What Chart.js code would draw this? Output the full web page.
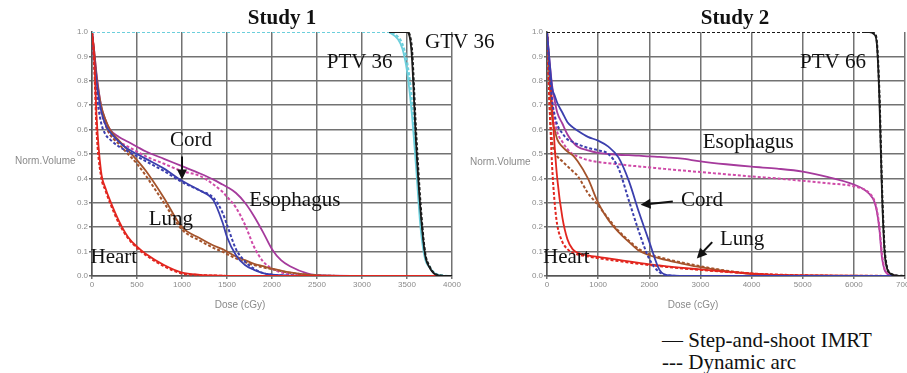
<!DOCTYPE html>
<html>
<head>
<meta charset="utf-8">
<script src="https://cdn.jsdelivr.net/npm/chart.js@4.4.1/dist/chart.umd.min.js"></script>
<style>
  body { margin: 0; background: #fff; }
  #wrap { position: relative; width: 907px; height: 373px; overflow: hidden; }
  canvas { position: absolute; top: 0; }
  .txt { position: absolute; white-space: nowrap; line-height: 24px; }
  .title { font: bold 21px "Liberation Serif", serif; color: #111; transform: translateX(-50%); top: 5px; }
  .axis { font: 10px "Liberation Sans", Arial, sans-serif; color: #8a8a8a; line-height: 12px; }
  .legend { font: 21px "Liberation Serif", serif; color: #111; left: 662px; }
</style>
</head>
<body>
<div id="wrap">
  <canvas id="c1" width="540" height="300" style="left:0"></canvas>
  <canvas id="c2" width="447" height="300" style="left:460px"></canvas>
  <div class="txt title" style="left:282px">Study 1</div>
  <div class="txt title" style="left:735px">Study 2</div>
  <div class="txt axis" style="left:15px;top:155px">Norm.Volume</div>
  <div class="txt axis" style="left:470px;top:156px">Norm.Volume</div>
  <div class="txt axis" style="left:240px;top:299px;transform:translateX(-50%)">Dose (cGy)</div>
  <div class="txt axis" style="left:693px;top:299px;transform:translateX(-50%)">Dose (cGy)</div>
  <div class="txt legend" style="top:328px">— Step-and-shoot IMRT</div>
  <div class="txt legend" style="top:350px">--- Dynamic arc</div>
</div>
<script>
// Study 1 - organ DVHs share one dose grid (cGy)
const s1OrganDose = [0, 25, 50, 100, 150, 200, 300, 400, 500, 600, 800, 1000, 1200, 1350, 1450, 1500, 1600, 1700, 1800, 1900, 2000, 2100, 2200, 2400, 2600, 3000, 4000];
const s1HeartStep = [1, 0.9, 0.66, 0.43, 0.36, 0.31, 0.225, 0.16, 0.12, 0.09, 0.045, 0.014, 0.005, 0.002, 0.001, 0, 0, 0, 0, 0, 0, 0, 0, 0, 0, 0, 0];
const s1HeartArc = [1, 0.86, 0.6, 0.41, 0.35, 0.3, 0.215, 0.155, 0.115, 0.085, 0.04, 0.01, 0.004, 0.002, 0.001, 0, 0, 0, 0, 0, 0, 0, 0, 0, 0, 0, 0];
const s1LungStep = [1, 0.92, 0.82, 0.7, 0.64, 0.6, 0.555, 0.515, 0.475, 0.43, 0.32, 0.2, 0.155, 0.125, 0.11, 0.1, 0.08, 0.065, 0.05, 0.04, 0.03, 0.022, 0.015, 0.006, 0.001, 0, 0];
const s1LungArc = [1, 0.9, 0.79, 0.68, 0.62, 0.58, 0.54, 0.5, 0.46, 0.41, 0.3, 0.19, 0.145, 0.115, 0.1, 0.09, 0.072, 0.057, 0.045, 0.035, 0.028, 0.02, 0.013, 0.005, 0.001, 0, 0];
const s1CordStep = [1, 0.9, 0.8, 0.68, 0.62, 0.59, 0.55, 0.52, 0.5, 0.48, 0.44, 0.39, 0.35, 0.31, 0.22, 0.16, 0.085, 0.045, 0.025, 0.012, 0.006, 0.003, 0.001, 0, 0, 0, 0];
const s1CordArc = [1, 0.86, 0.75, 0.63, 0.58, 0.56, 0.53, 0.51, 0.49, 0.47, 0.43, 0.385, 0.35, 0.32, 0.26, 0.21, 0.11, 0.06, 0.03, 0.012, 0.005, 0.002, 0.001, 0, 0, 0, 0];
const s1EsoStep = [1, 0.92, 0.83, 0.7, 0.64, 0.6, 0.57, 0.55, 0.53, 0.51, 0.48, 0.45, 0.42, 0.395, 0.375, 0.365, 0.34, 0.3, 0.245, 0.18, 0.11, 0.065, 0.04, 0.01, 0.002, 0, 0];
const s1EsoArc = [1, 0.9, 0.8, 0.68, 0.62, 0.58, 0.55, 0.53, 0.51, 0.49, 0.46, 0.43, 0.41, 0.375, 0.345, 0.325, 0.28, 0.21, 0.12, 0.06, 0.03, 0.015, 0.007, 0.002, 0, 0, 0];

// Study 1 - targets
const s1TargetDose = [3300, 3400, 3450, 3500, 3550, 3600, 3650, 3700, 3750, 3800, 3900, 4000];
const s1PtvStep = [1, 0.97, 0.93, 0.84, 0.68, 0.45, 0.2, 0.07, 0.035, 0.012, 0, 0];
const s1GtvStep = [1, 1, 1, 1, 0.92, 0.55, 0.27, 0.09, 0.035, 0.01, 0, 0];
const s1GtvArc = [1, 1, 1, 1, 0.95, 0.6, 0.3, 0.1, 0.04, 0.012, 0.001, 0];
const s1PtvArcDose = [0, 3300, 3400, 3450, 3500, 3550, 3600, 3650, 3700, 3750, 3800, 3900, 4000];
const s1PtvArc = [1, 1, 0.98, 0.95, 0.88, 0.74, 0.5, 0.24, 0.09, 0.04, 0.015, 0.002, 0];

// Study 2 - low dose organs
const s2LowDose = [0, 50, 100, 150, 200, 300, 400, 500, 600, 800, 1000, 1200, 1400, 1600, 1800, 2000, 2200, 2400, 2600, 3000, 3500, 4000, 4500, 5000, 7000];
const s2HeartStep = [1, 0.85, 0.7, 0.53, 0.4, 0.24, 0.15, 0.11, 0.095, 0.085, 0.078, 0.072, 0.066, 0.06, 0.054, 0.048, 0.043, 0.038, 0.034, 0.027, 0.018, 0.01, 0.005, 0.002, 0];
const s2HeartArc = [1, 0.7, 0.45, 0.3, 0.21, 0.14, 0.11, 0.095, 0.088, 0.08, 0.073, 0.067, 0.061, 0.055, 0.05, 0.045, 0.04, 0.036, 0.032, 0.025, 0.017, 0.01, 0.006, 0.003, 0];
const s2LungStep = [1, 0.8, 0.65, 0.6, 0.56, 0.53, 0.51, 0.495, 0.47, 0.4, 0.3, 0.23, 0.18, 0.14, 0.103, 0.085, 0.072, 0.062, 0.053, 0.036, 0.02, 0.008, 0.003, 0.001, 0];
const s2LungArc = [1, 0.7, 0.55, 0.51, 0.49, 0.47, 0.45, 0.43, 0.41, 0.34, 0.29, 0.235, 0.185, 0.145, 0.11, 0.09, 0.077, 0.066, 0.057, 0.04, 0.022, 0.01, 0.004, 0.001, 0];
const s2CordStep = [1, 0.88, 0.77, 0.74, 0.71, 0.67, 0.63, 0.61, 0.595, 0.57, 0.555, 0.53, 0.485, 0.39, 0.26, 0.14, 0.025, 0.002, 0, 0, 0, 0, 0, 0, 0];
const s2CordArc = [1, 0.84, 0.72, 0.66, 0.62, 0.585, 0.56, 0.55, 0.54, 0.525, 0.515, 0.5, 0.44, 0.31, 0.18, 0.07, 0.015, 0.002, 0, 0, 0, 0, 0, 0, 0];

// Study 2 - esophagus runs the whole dose range
const s2EsoDose = [0, 50, 100, 150, 200, 300, 400, 500, 600, 800, 1000, 1200, 1400, 1600, 1800, 2000, 2200, 2400, 2600, 3000, 3500, 4000, 4500, 5000, 5500, 6000, 6200, 6300, 6400, 6450, 6500, 6550, 6600, 6650, 6700, 6800, 7000];
const s2EsoStep = [1, 0.88, 0.78, 0.72, 0.67, 0.625, 0.58, 0.55, 0.53, 0.515, 0.505, 0.5, 0.497, 0.495, 0.493, 0.49, 0.488, 0.485, 0.482, 0.47, 0.458, 0.448, 0.44, 0.428, 0.405, 0.375, 0.355, 0.337, 0.305, 0.265, 0.19, 0.075, 0.025, 0.01, 0.004, 0.001, 0];
const s2EsoArc = [1, 0.85, 0.72, 0.64, 0.59, 0.55, 0.52, 0.5, 0.49, 0.475, 0.467, 0.462, 0.458, 0.453, 0.449, 0.445, 0.441, 0.437, 0.433, 0.426, 0.417, 0.408, 0.4, 0.39, 0.38, 0.368, 0.355, 0.34, 0.31, 0.27, 0.2, 0.09, 0.03, 0.012, 0.004, 0.001, 0];

// Study 2 - target
const s2TargetDose = [6200, 6300, 6400, 6450, 6500, 6550, 6600, 6650, 6700, 6800, 7000];
const s2PtvStep = [1, 1, 0.99, 0.95, 0.72, 0.34, 0.1, 0.03, 0.012, 0.003, 0];
const s2PtvArcDose = [0, 6300, 6400, 6450, 6500, 6550, 6600, 6650, 6700, 6800, 7000];
const s2PtvArc = [1, 1, 0.995, 0.96, 0.75, 0.37, 0.12, 0.035, 0.014, 0.004, 0];

// labels written on the plots (dose, volume)
const s1Notes = [
  { text: 'GTV 36', dose: 3700, vol: 0.959, align: 'left' },
  { text: 'PTV 36', dose: 2974, vol: 0.877 },
  { text: 'Cord', dose: 1099, vol: 0.557 },
  { text: 'Esophagus', dose: 2254, vol: 0.311 },
  { text: 'Lung', dose: 877, vol: 0.23 },
  { text: 'Heart', dose: 242, vol: 0.074 }
];
const s1Arrows = [{ from: [1000, 0.49], to: [1000, 0.395] }];
const s2Notes = [
  { text: 'PTV 66', dose: 5593, vol: 0.877 },
  { text: 'Esophagus', dose: 3933, vol: 0.549 },
  { text: 'Cord', dose: 3033, vol: 0.311 },
  { text: 'Lung', dose: 3815, vol: 0.148 },
  { text: 'Heart', dose: 377, vol: 0.074 }
];
const s2Arrows = [
  { from: [2460, 0.305], to: [1830, 0.292] },
  { from: [3230, 0.139], to: [2930, 0.072] }
];

const RED = '#e2261f', BROWN = '#a4532b', BLUE = '#3b3fae', MAG = '#a53a9c', PINK = '#cf4aa8', CYAN = '#6ccfdc', BLACK = '#1a1a1a';
const GRID = '#727272';

function pts(xs, ys) {
  return xs.map((x, i) => ({ x: x, y: ys[i] }));
}

function line(label, xs, ys, color, arc) {
  return {
    label: label,
    data: pts(xs, ys),
    borderColor: color,
    borderWidth: arc ? 2 : 1.8,
    borderDash: arc ? [3, 2] : [],
    pointRadius: 0,
    cubicInterpolationMode: 'monotone',
    fill: false
  };
}

const notesPlugin = {
  id: 'notes',
  afterDatasetsDraw(chart, args, opts) {
    const ctx = chart.ctx, xs = chart.scales.x, ys = chart.scales.y;
    ctx.save();
    ctx.fillStyle = '#111';
    ctx.strokeStyle = '#111';
    ctx.font = '21px "Liberation Serif", serif';
    ctx.textBaseline = 'middle';
    opts.notes.forEach(n => {
      ctx.textAlign = n.align || 'center';
      ctx.fillText(n.text, xs.getPixelForValue(n.dose), ys.getPixelForValue(n.vol));
    });
    opts.arrows.forEach(a => {
      const x1 = xs.getPixelForValue(a.from[0]), y1 = ys.getPixelForValue(a.from[1]);
      const x2 = xs.getPixelForValue(a.to[0]), y2 = ys.getPixelForValue(a.to[1]);
      const ang = Math.atan2(y2 - y1, x2 - x1);
      ctx.lineWidth = 2;
      ctx.beginPath();
      ctx.moveTo(x1, y1);
      ctx.lineTo(x2 - 6 * Math.cos(ang), y2 - 6 * Math.sin(ang));
      ctx.stroke();
      ctx.beginPath();
      ctx.moveTo(x2, y2);
      ctx.lineTo(x2 - 10 * Math.cos(ang) + 5 * Math.sin(ang), y2 - 10 * Math.sin(ang) - 5 * Math.cos(ang));
      ctx.lineTo(x2 - 10 * Math.cos(ang) - 5 * Math.sin(ang), y2 - 10 * Math.sin(ang) + 5 * Math.cos(ang));
      ctx.closePath();
      ctx.fill();
    });
    ctx.restore();
  }
};

function makeChart(id, xMax, xStep, yWidth, padRight, datasets, notes, arrows) {
  const tickFont = { size: 8, family: '"Liberation Sans", Arial, sans-serif' };
  return new Chart(document.getElementById(id), {
    type: 'line',
    data: { datasets: datasets },
    options: {
      responsive: false,
      animation: false,
      layout: { padding: { top: 32, right: padRight, bottom: 0, left: 0 } },
      plugins: {
        legend: { display: false },
        tooltip: { enabled: false },
        notes: { notes: notes, arrows: arrows }
      },
      scales: {
        x: {
          type: 'linear', min: 0, max: xMax,
          ticks: { stepSize: xStep, color: '#8a8a8a', font: tickFont, maxRotation: 0, autoSkip: false, padding: 1, callback: v => String(v) },
          grid: { color: GRID, lineWidth: 1.5, tickLength: 3 },
          border: { color: '#555', width: 1.5 },
          afterFit(s) { s.height = 24; s.paddingLeft = 0; s.paddingRight = 0; }
        },
        y: {
          min: 0, max: 1,
          ticks: { stepSize: 0.1, color: '#8a8a8a', font: tickFont, padding: 1, callback: v => v.toFixed(1) },
          grid: {
            color: c => (c.tick && Math.abs(c.tick.value - 1) < 1e-6) ? 'rgba(0,0,0,0)' : GRID,
            lineWidth: 1.5, tickLength: 3
          },
          border: { color: '#555', width: 1.5 },
          afterFit(s) { s.width = yWidth; s.paddingTop = 0; s.paddingBottom = 0; }
        }
      }
    },
    plugins: [notesPlugin]
  });
}

makeChart('c1', 4000, 500, 92, 88, [
  line('GTV 36 arc', s1TargetDose, s1GtvArc, BLACK, true),
  line('GTV 36 step', s1TargetDose, s1GtvStep, BLACK, false),
  line('PTV 36 arc', s1PtvArcDose, s1PtvArc, CYAN, true),
  line('PTV 36 step', s1TargetDose, s1PtvStep, CYAN, false),
  line('Heart arc', s1OrganDose, s1HeartArc, RED, true),
  line('Heart step', s1OrganDose, s1HeartStep, RED, false),
  line('Cord arc', s1OrganDose, s1CordArc, BLUE, true),
  line('Cord step', s1OrganDose, s1CordStep, BLUE, false),
  line('Lung arc', s1OrganDose, s1LungArc, BROWN, true),
  line('Lung step', s1OrganDose, s1LungStep, BROWN, false),
  line('Esophagus arc', s1OrganDose, s1EsoArc, PINK, true),
  line('Esophagus step', s1OrganDose, s1EsoStep, MAG, false)
], s1Notes, s1Arrows);

makeChart('c2', 7000, 1000, 87, 2, [
  line('PTV 66 arc', s2PtvArcDose, s2PtvArc, BLACK, true),
  line('PTV 66 step', s2TargetDose, s2PtvStep, BLACK, false),
  line('Cord arc', s2LowDose, s2CordArc, BLUE, true),
  line('Cord step', s2LowDose, s2CordStep, BLUE, false),
  line('Heart arc', s2LowDose, s2HeartArc, RED, true),
  line('Heart step', s2LowDose, s2HeartStep, RED, false),
  line('Lung arc', s2LowDose, s2LungArc, BROWN, true),
  line('Lung step', s2LowDose, s2LungStep, BROWN, false),
  line('Esophagus arc', s2EsoDose, s2EsoArc, PINK, true),
  line('Esophagus step', s2EsoDose, s2EsoStep, MAG, false)
], s2Notes, s2Arrows);
</script>
</body>
</html>
